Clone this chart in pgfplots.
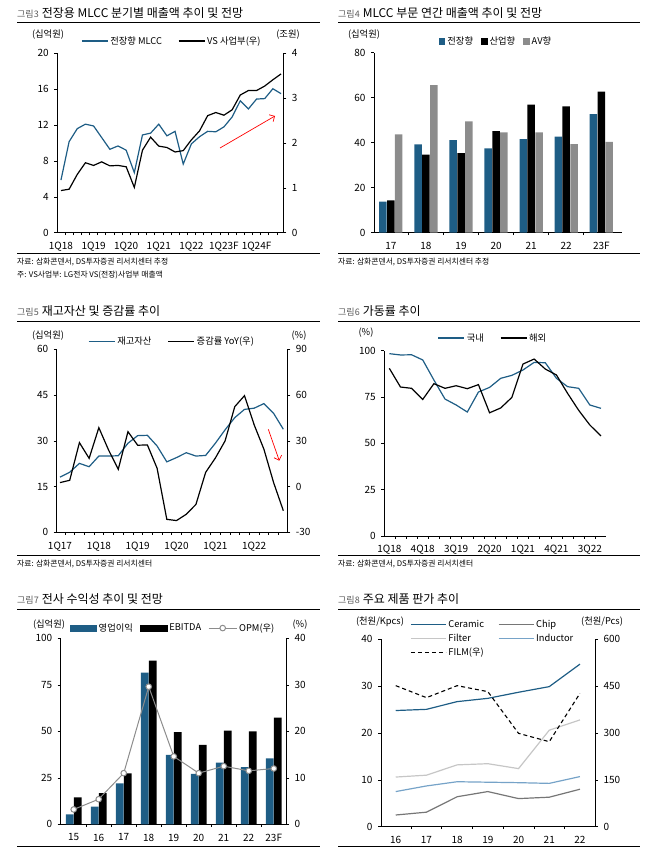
\documentclass[border=0pt]{standalone}
\usepackage{fontspec}
\setmainfont{Noto Sans CJK KR}
\usepackage{pgfplots}
\usepackage{pgfplotstable}
\pgfplotsset{compat=1.18}
\usetikzlibrary{arrows.meta}
\definecolor{mblue}{RGB}{30,93,133}
\definecolor{mgray}{RGB}{140,140,140}
\definecolor{chipgray}{RGB}{118,118,118}
\definecolor{filtgray}{RGB}{198,198,198}
\definecolor{indblue}{RGB}{118,163,200}
\definecolor{capgray}{RGB}{90,90,90}
\newcommand{\tf}{\fontsize{10}{11}\selectfont}
\newcommand{\lf}{\fontsize{9.3}{10}\selectfont}
\newcommand{\ff}{\fontsize{7.8}{9}\selectfont}
\newcommand{\ttl}[2]{{\color{capgray}\fontsize{9}{10}\selectfont #1}\hspace{3pt}{\fontsize{12}{13}\selectfont #2}}

\pgfplotstableread{
i blue vs
0 5.87 0.94
1 10.15 0.97
2 11.6 1.30
3 12.1 1.56
4 11.9 1.50
5 10.6 1.58
6 9.3 1.49
7 9.67 1.50
8 9.2 1.47
9 6.7 1.01
10 10.9 1.84
11 11.1 2.13
12 12.1 1.93
13 10.8 1.90
14 11.3 1.80
15 7.65 1.83
16 9.9 2.07
17 10.7 2.27
18 11.3 2.61
19 11.25 2.68
20 11.8 2.62
21 12.9 2.74
22 14.7 3.07
23 13.8 3.17
24 14.9 3.17
25 14.95 3.27
26 16.05 3.41
27 15.5 3.54
}\tabA

\pgfplotstableread{
x ev ind av
0 13.8 14.4 43.7
1 39.3 34.7 65.6
2 41.2 35.4 49.5
3 37.5 45.2 44.6
4 41.6 56.9 44.6
5 42.7 56.1 39.4
6 52.7 62.7 40.4
}\tabB

\pgfplotstableread{
i inv yoy
0 18.1 2.6
1 19.7 4.1
2 22.6 28.8
3 21.5 18.5
4 25.0 38.6
5 25.0 24.0
6 25.1 11.3
7 29.2 36.0
8 31.7 27.1
9 31.8 27.3
10 28.3 12.0
11 23.1 -21.5
12 24.5 -22.3
13 26.1 -18.2
14 25.0 -11.7
15 25.2 9.3
16 29.2 18.7
17 33.6 29.9
18 37.6 52.4
19 40.3 59.6
20 40.7 40.4
21 42.2 24.5
22 39.0 2.6
23 33.8 -15.8
}\tabC

\pgfplotstableread{
i dom ovs
0 98.4 90.5
1 97.7 80.4
2 97.8 79.7
3 95.0 73.7
4 84.2 82.2
5 73.9 79.7
6 70.7 81.1
7 66.9 79.5
8 77.7 81.7
9 80.2 66.5
10 85.1 69.1
11 86.7 74.8
12 89.6 92.8
13 93.7 95.5
14 93.5 90.1
15 85.1 86.9
16 80.6 77.0
17 79.7 67.8
18 70.7 59.9
19 68.9 54.0
}\tabD

\pgfplotstableread{
x op ebitda opm
0 5.4 14.5 3.2
1 9.5 16.7 5.4
2 22.0 27.4 11.0
3 81.5 88.0 29.6
4 37.3 49.5 14.6
5 27.1 42.7 11.0
6 33.2 50.4 12.5
7 30.8 50.0 11.5
8 35.5 57.3 12.0
}\tabE

\pgfplotstableread{
x ceramic chip filter inductor film
0 24.8 2.5 10.6 7.5 451.6
1 25.05 3.1 11.0 8.7 413.2
2 26.7 6.4 13.2 9.6 451.6
3 27.4 7.5 13.45 9.5 432.4
4 28.7 6.0 12.4 9.4 298.9
5 29.9 6.3 20.6 9.25 272.2
6 34.7 8.0 22.8 10.7 427.0
}\tabF

\pgfplotsset{
  base/.style={scale only axis, anchor=south west,
    /pgf/number format/assume math mode=true,
    axis line style={line width=0.6pt},
    every tick/.style={black,line width=0.6pt},
    tick align=outside, major tick length=3pt, minor tick length=2.5pt,
    ticklabel style={font=\tf},
    major x tick style={draw=none},
    xticklabel style={yshift=-3pt},
    legend cell align=left,
  },
  leftax/.style={base, axis y line*=left, axis x line*=bottom, yticklabel style={xshift=-2pt}},
  rightax/.style={base, axis y line*=right, axis x line=none, yticklabel style={xshift=2pt}},
  leg/.style={legend style={draw=none, fill=none, font=\lf, inner sep=0pt,
     /tikz/every even column/.append style={column sep=14pt}}},
  lineleg/.style={legend image code/.code={\draw[##1] (0pt,0pt) -- (#1,0pt);}},
  opmleg/.style={legend image code/.code={\draw[mark repeat=2, mark phase=2, ##1] plot coordinates {(0pt,0pt) (14pt,0pt) (28pt,0pt)};}},
  barleg/.style={legend image code/.code={\fill[##1] (0pt,-3pt) rectangle (6.5pt,3.5pt);}},
}

\begin{document}
\begin{tikzpicture}
\useasboundingbox (0pt,0pt) rectangle (650pt,-850pt);

% ---------------- Panel 1 ----------------
\node[anchor=west, inner sep=0pt] at (17pt,-13pt) {\ttl{그림3}{전장용 MLCC 분기별 매출액 추이 및 전망}};
\draw[line width=0.8pt] (17pt,-22.7pt) -- (320pt,-22.7pt);
\node[font=\lf] at (48pt,-35pt) {(십억원)};
\node[font=\lf] at (288pt,-35pt) {(조원)};
\begin{axis}[leftax, at={(57.3pt,-232.7pt)}, width=226pt, height=179.4pt,
  xmin=-0.45, xmax=27.28, ymin=0, ymax=20, ytick={0,4,...,20},
  xtick={0,4,8,12,16,20,24}, xticklabels={1Q18,1Q19,1Q20,1Q21,1Q22,1Q23F,1Q24F},
  minor xtick={0.5,1.5,...,26.5}]
\addplot[mblue, line width=1.2pt] table[x=i,y=blue] {\tabA};
\end{axis}
\begin{axis}[rightax, at={(57.3pt,-232.7pt)}, width=226pt, height=179.4pt,
  xmin=-0.45, xmax=27.28, ymin=0, ymax=4, ytick={0,1,...,4},
  leg, lineleg=26pt, legend columns=2,
  legend style={at={(0.507,1.069)}, anchor=center}]
\addlegendimage{mblue, line width=1.2pt}
\addlegendentry{전장향 MLCC}
\addplot[black, line width=1.2pt] table[x=i,y=vs] {\tabA};
\addlegendentry{VS 사업부(우)}
\end{axis}
\draw[red, line width=0.7pt, -{Straight Barb[length=4pt]}] (220pt,-148pt) -- (275pt,-116pt);
\draw[line width=0.6pt] (17pt,-253pt) -- (320pt,-253pt);
\node[anchor=west, inner sep=0pt, font=\ff] at (17pt,-262pt) {자료: 삼화콘덴서, DS투자증권 리서치센터 추정};
\node[anchor=west, inner sep=0pt, font=\ff] at (17pt,-275pt) {주: VS사업부: LG전자 VS(전장)사업부 매출액};

% ---------------- Panel 2 ----------------
\node[anchor=west, inner sep=0pt] at (338pt,-13pt) {\ttl{그림4}{MLCC 부문 연간 매출액 추이 및 전망}};
\draw[line width=0.8pt] (338pt,-22.7pt) -- (640pt,-22.7pt);
\node[font=\lf] at (364pt,-35pt) {(십억원)};
\begin{axis}[leftax, at={(374pt,-232.7pt)}, width=248pt, height=180pt,
  xmin=-0.48, xmax=6.59, ymin=0, ymax=80, ytick={0,20,...,80},
  xtick={0,...,6}, xticklabels={17,18,19,20,21,22,23F},
  minor xtick={0.5,1.5,...,5.5},
  leg, legend columns=3, barleg,
  legend style={at={(0.492,1.061)}, anchor=center, /tikz/every even column/.append style={column sep=6pt}}]
\addplot[ybar, bar width=7.5pt, bar shift=-7.9pt, fill=mblue, draw=none] table[x=x,y=ev] {\tabB};
\addlegendentry{전장향}
\addplot[ybar, bar width=7.5pt, bar shift=0pt, fill=black, draw=none] table[x=x,y=ind] {\tabB};
\addlegendentry{산업향}
\addplot[ybar, bar width=7.5pt, bar shift=7.9pt, fill=mgray, draw=none] table[x=x,y=av] {\tabB};
\addlegendentry{AV향}
\end{axis}
\draw[line width=0.6pt] (338pt,-253pt) -- (640pt,-253pt);
\node[anchor=west, inner sep=0pt, font=\ff] at (338pt,-262pt) {자료: 삼화콘덴서, DS투자증권 리서치센터 추정};

% ---------------- Panel 3 ----------------
\node[anchor=west, inner sep=0pt] at (17pt,-310.7pt) {\ttl{그림5}{재고자산 및 증감률 추이}};
\draw[line width=0.8pt] (17pt,-321pt) -- (320pt,-321pt);
\node[font=\lf] at (48pt,-336pt) {(십억원)};
\node[font=\lf] at (299pt,-336pt) {(\%)};
\begin{axis}[leftax, at={(56.7pt,-532.3pt)}, width=230.6pt, height=183pt,
  xmin=-0.34, xmax=23.41, ymin=0, ymax=60, ytick={0,15,...,60},
  xtick={0,4,...,20}, xticklabels={1Q17,1Q18,1Q19,1Q20,1Q21,1Q22},
  minor xtick={0.5,1.5,...,22.5}]
\addplot[mblue, line width=1.2pt] table[x=i,y=inv] {\tabC};
\end{axis}
\begin{axis}[rightax, at={(56.7pt,-532.3pt)}, width=230.6pt, height=183pt,
  xmin=-0.34, xmax=23.41, ymin=-30, ymax=90, ytick={-30,0,...,90},
  leg, lineleg=26pt, legend columns=2,
  legend style={at={(0.5,1.042)}, anchor=center}]
\addlegendimage{mblue, line width=1.2pt}
\addlegendentry{재고자산}
\addplot[black, line width=1.2pt] table[x=i,y=yoy] {\tabC};
\addlegendentry{증감률 YoY(우)}
\end{axis}
\draw[red, line width=0.7pt, -{Straight Barb[length=4pt]}] (268.3pt,-429.3pt) -- (279.3pt,-460.7pt);
\draw[line width=0.6pt] (17pt,-555pt) -- (320pt,-555pt);
\node[anchor=west, inner sep=0pt, font=\ff] at (17pt,-564pt) {자료: 삼화콘덴서, DS투자증권 리서치센터};

% ---------------- Panel 4 ----------------
\node[anchor=west, inner sep=0pt] at (338pt,-311pt) {\ttl{그림6}{가동률 추이}};
\draw[line width=0.8pt] (338pt,-321.5pt) -- (640pt,-321.5pt);
\node[font=\lf] at (366pt,-332.7pt) {(\%)};
\begin{axis}[leftax, at={(384.3pt,-536pt)}, width=221.7pt, height=185.3pt,
  xmin=-0.45, xmax=19.45, ymin=0, ymax=100, ytick={0,25,...,100},
  xtick={0,3,...,18}, xticklabels={1Q18,4Q18,3Q19,2Q20,1Q21,4Q21,3Q22},
  minor xtick={0.5,1.5,...,18.5},
  leg, lineleg=26pt, legend columns=2,
  legend style={at={(0.49,1.069)}, anchor=center}]
\addplot[mblue, line width=1.2pt] table[x=i,y=dom] {\tabD};
\addlegendentry{국내}
\addplot[black, line width=1.2pt] table[x=i,y=ovs] {\tabD};
\addlegendentry{해외}
\end{axis}
\draw[line width=0.6pt] (338pt,-555.7pt) -- (640pt,-555.7pt);
\node[anchor=west, inner sep=0pt, font=\ff] at (338pt,-564pt) {자료: 삼화콘덴서, DS투자증권 리서치센터};

% ---------------- Panel 5 ----------------
\node[anchor=west, inner sep=0pt] at (17pt,-599pt) {\ttl{그림7}{전사 수익성 추이 및 전망}};
\draw[line width=0.8pt] (17pt,-609pt) -- (320pt,-609pt);
\node[font=\lf] at (49pt,-625pt) {(십억원)};
\node[font=\lf] at (300pt,-625pt) {(\%)};
\begin{axis}[leftax, at={(60.7pt,-824.3pt)}, width=225.3pt, height=186pt,
  xmin=-0.52, xmax=8.49, ymin=0, ymax=100, ytick={0,25,...,100},
  xtick={0,...,8}, xticklabels={15,16,17,18,19,20,21,22,23F},
  minor xtick={0.5,1.5,...,7.5}]
\addplot[ybar, bar width=7.8pt, bar shift=-4pt, fill=mblue, draw=none] table[x=x,y=op] {\tabE};
\addplot[ybar, bar width=7.8pt, bar shift=4pt, fill=black, draw=none] table[x=x,y=ebitda] {\tabE};
\end{axis}
\begin{axis}[rightax, at={(60.7pt,-824.3pt)}, width=225.3pt, height=186pt,
  xmin=-0.52, xmax=8.49, ymin=0, ymax=40, ytick={0,10,...,40},
  leg, legend columns=3,
  legend style={at={(0.50,1.055)}, anchor=center, /tikz/every even column/.append style={column sep=5pt}}]
\addlegendimage{legend image code/.code={\fill[mblue] (0pt,-3pt) rectangle (26pt,3pt);}}
\addlegendentry{영업이익}
\addlegendimage{legend image code/.code={\fill[black] (0pt,-3pt) rectangle (27pt,3pt);}}
\addlegendentry{EBITDA}
\addplot[mgray, line width=1pt, mark=*, mark size=2.8pt, mark options={fill=white, draw=mgray, line width=1pt}, opmleg] table[x=x,y=opm] {\tabE};
\addlegendentry{OPM(우)}
\end{axis}
\draw[line width=0.6pt] (17pt,-846.7pt) -- (320pt,-846.7pt);

% ---------------- Panel 6 ----------------
\node[anchor=west, inner sep=0pt] at (338pt,-599pt) {\ttl{그림8}{주요 제품 판가 추이}};
\draw[line width=0.8pt] (338pt,-609pt) -- (640pt,-609pt);
\node[font=\lf] at (380pt,-621.7pt) {(천원/Kpcs)};
\node[font=\lf] at (602pt,-621.7pt) {(천원/Pcs)};
\begin{axis}[leftax, at={(381pt,-826.7pt)}, width=214pt, height=187.4pt,
  xmin=-0.48, xmax=6.49, ymin=0, ymax=40, ytick={0,10,...,40},
  xtick={0,...,6}, xticklabels={16,17,18,19,20,21,22},
  minor xtick={0.5,1.5,...,5.5}]
\addplot[mblue, line width=1.2pt] table[x=x,y=ceramic] {\tabF};
\addplot[chipgray, line width=1.2pt] table[x=x,y=chip] {\tabF};
\addplot[filtgray, line width=1.2pt] table[x=x,y=filter] {\tabF};
\addplot[indblue, line width=1.2pt] table[x=x,y=inductor] {\tabF};
\end{axis}
\begin{axis}[rightax, at={(381pt,-826.7pt)}, width=214pt, height=187.4pt,
  xmin=-0.48, xmax=6.49, ymin=0, ymax=600, ytick={0,150,...,600},
  leg, lineleg=35pt, legend columns=2,
  legend style={at={(0.1355,1.114)}, anchor=north west, row sep=1pt, /tikz/every even column/.append style={column sep=12pt}}]
\addlegendimage{mblue, line width=1.2pt}
\addlegendentry{Ceramic}
\addlegendimage{chipgray, line width=1.2pt}
\addlegendentry{Chip}
\addlegendimage{filtgray, line width=1.2pt}
\addlegendentry{Filter}
\addlegendimage{indblue, line width=1.2pt}
\addlegendentry{Inductor}
\addplot[black, line width=1.1pt, dash pattern=on 4pt off 3pt] table[x=x,y=film] {\tabF};
\addlegendentry{FILM(우)}
\end{axis}
\draw[line width=0.6pt] (338pt,-846.7pt) -- (640pt,-846.7pt);
\end{tikzpicture}
\end{document}
